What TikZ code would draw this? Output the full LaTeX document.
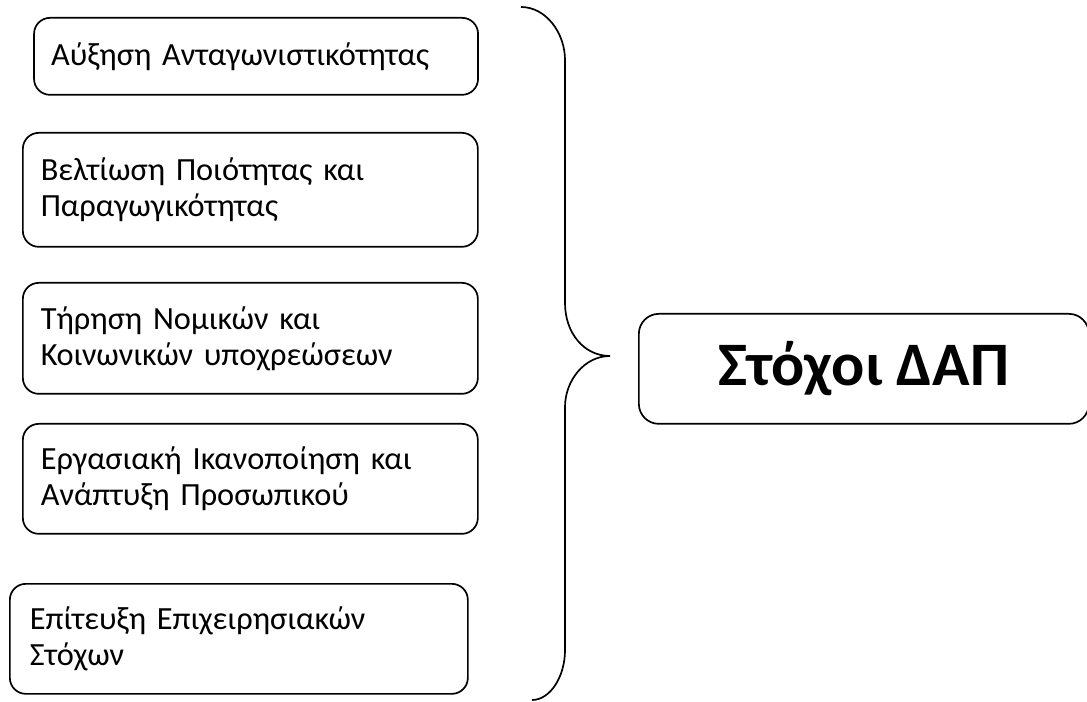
\documentclass[tikz,border=0pt]{standalone}
\usepackage{fontspec}
\setmainfont{Carlito}
\usepackage{tikz}
\usetikzlibrary{positioning,calc}

\tikzset{
    goalbox/.style={draw,line width=1.2pt,rounded corners=0.4cm,anchor=north west,align=left,inner xsep=0.45cm,font=\fontsize{23}{25.6}\selectfont},
    mainbox/.style={draw,line width=1.2pt,rounded corners=0.5cm,anchor=north west,minimum width=11.25cm,minimum height=2.75cm,font=\fontsize{44}{50}\selectfont\bfseries}
}

\begin{document}
\begin{tikzpicture}
            \useasboundingbox (0,0) rectangle (27.175,17.525);

            % Left side goal boxes
            \node[goalbox,inner xsep=0.425cm,minimum width=11.1cm,minimum height=1.925cm,text width=10.25cm] (goal1) at (0.83,17.1) {Αύξηση Ανταγωνιστικότητας};
            \node[goalbox,minimum width=11.375cm,minimum height=2.85cm,text width=10.475cm] (goal2) at (0.55,14.225) {Βελτίωση Ποιότητας και\\Παραγωγικότητας};
            \node[goalbox,minimum width=11.375cm,minimum height=2.775cm,text width=10.475cm] (goal3) at (0.55,10.475) {Τήρηση Νομικών και\\Κοινωνικών υποχρεώσεων};
            \node[goalbox,minimum width=11.375cm,minimum height=2.75cm,text width=10.475cm] (goal4) at (0.55,6.95) {Εργασιακή Ικανοποίηση και\\Ανάπτυξη Προσωπικού};
            \node[goalbox,inner xsep=0.5cm,minimum width=11.45cm,minimum height=2.75cm,text width=10.45cm] (goal5) at (0.225,2.95) {Επίτευξη Επιχειρησιακών\\Στόχων};

            % Brace points
            \coordinate (braceTop) at (13.025,17.35);
            \coordinate (braceTip) at (15.25,8.625);
            \coordinate (braceBot) at (13.3,0.025);

            % Right brace
            \draw[line width=1.2pt] (braceTop) .. controls (13.65,17.35) and (14.125,16.7) .. (14.125,16.025)
                -- (14.125,9.95) .. controls (14.125,9.2) and (14.6,8.625) .. (braceTip)
                .. controls (14.6,8.625) and (14.125,8.0) .. (14.125,7.35)
                -- (14.125,1.275) .. controls (14.125,0.6) and (13.75,0.025) .. (braceBot);

            % Right side main box
            \node[mainbox] (mainGoal) at (15.95,9.7) {Στόχοι ΔΑΠ};

        \end{tikzpicture}
\end{document}
